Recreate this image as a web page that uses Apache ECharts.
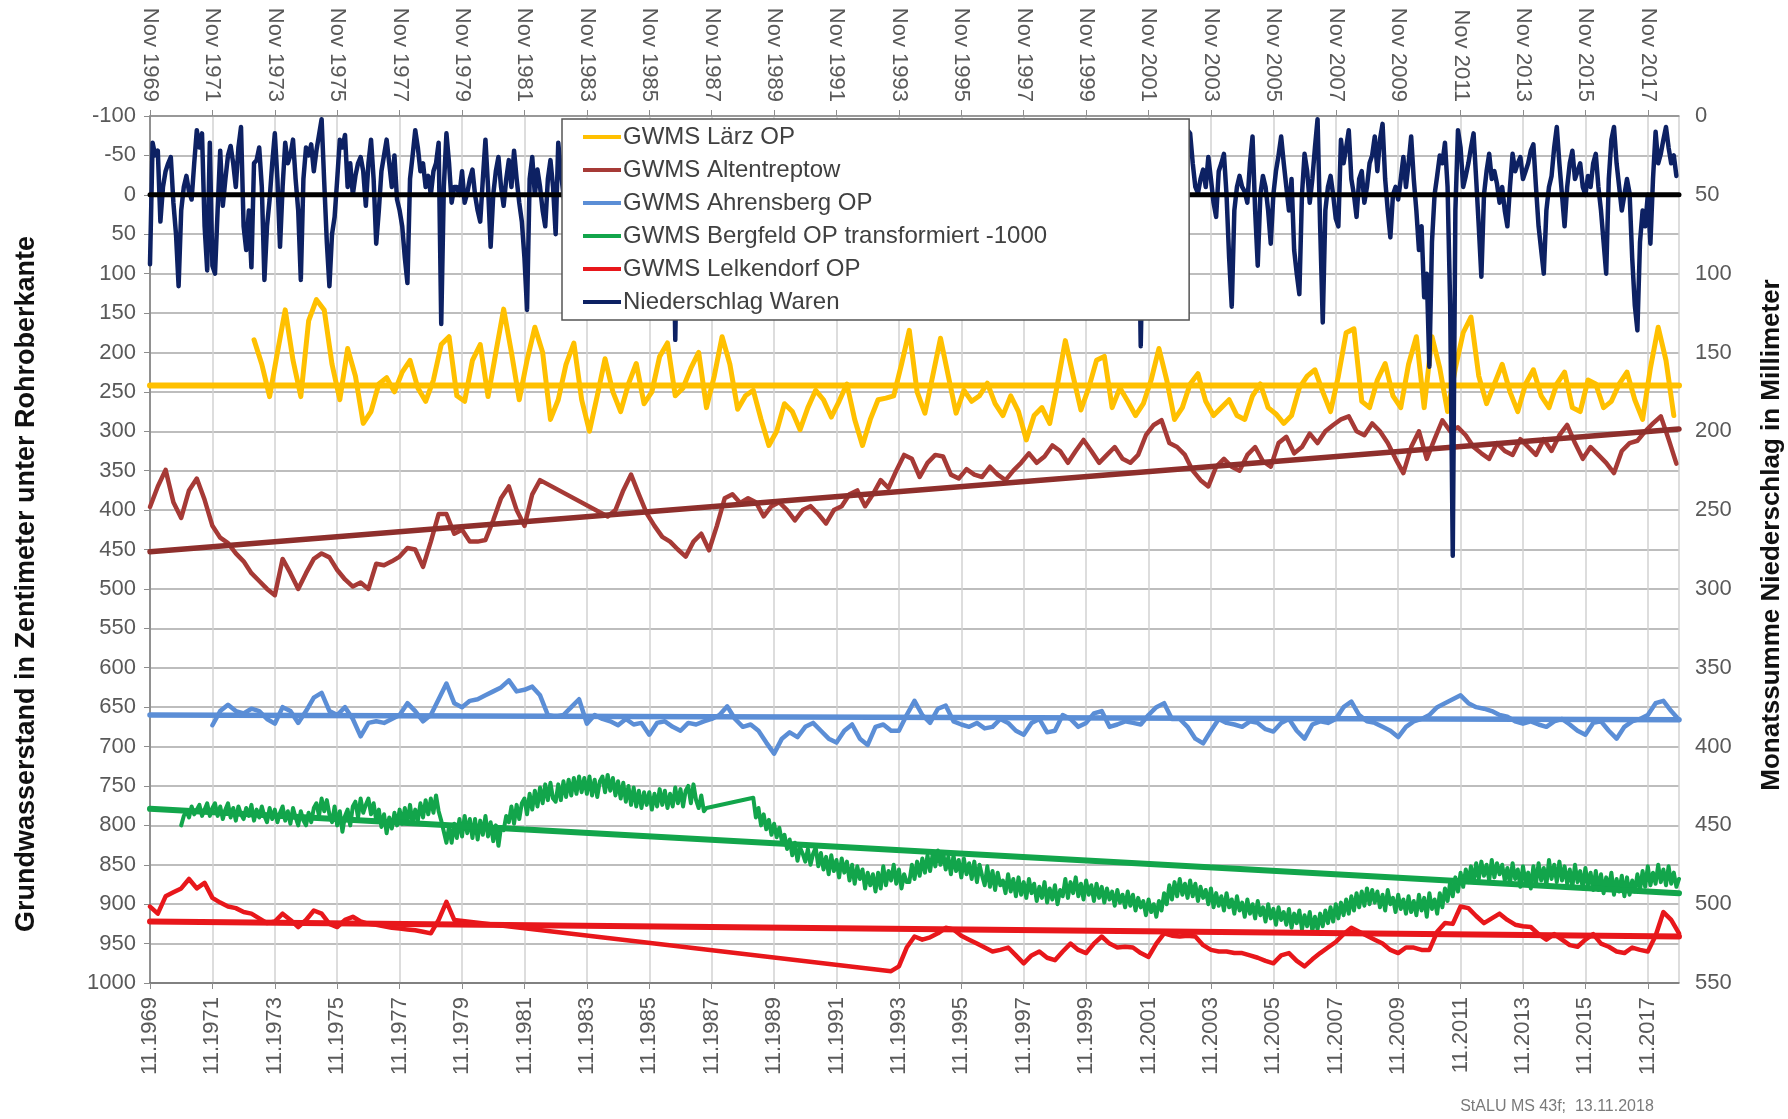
<!DOCTYPE html>
<html>
<head>
<meta charset="UTF-8">
<title>Grundwasserstand und Niederschlag</title>
<script src="https://cdn.jsdelivr.net/npm/echarts@6.0.0/dist/echarts.min.js"></script>
<style>
  html, body { margin: 0; padding: 0; background: #fff; }
  #chart { width: 1788px; height: 1119px; }
</style>
</head>
<body>
<div id="chart"></div>
<script>
// x position = months since Nov 1969
var firstYear = 1969;
var lastMonth = 588;

// GWMS Lärz OP, every 3 months from month 40
var larzStart = 40;
var larz = [
  184,215,256,200,146,210,256,160,133,146,215,260,195,230,290,275,240,232,250,225,
  210,245,262,235,190,180,255,262,210,190,256,200,145,200,260,210,168,200,285,260,
  215,188,260,300,255,208,250,275,240,214,265,250,205,188,255,245,220,200,270,230,
  180,215,272,255,248,285,318,300,265,275,298,270,248,260,282,262,240,285,318,285,
  260,258,255,215,172,
  250,277,230,182,230,277,248,262,255,239,265,280,255,275,311,280,270,290,240,185,
  230,273,245,210,205,270,245,262,280,265,235,195,235,285,270,240,227,262,280,270,
  260,280,285,255,240,270,278,290,280,245,230,222,250,275,230,175,170,262,270,235,
  214,255,270,215,180,270,180,220,275,220,175,155,230,265,240,215,250,275,240,222,
  255,270,240,225,270,275,235,240,270,262,240,225,260,285,220,168,210,280
];

// GWMS Altentreptow, every 3 months, gap 1981-1984
var altStartA = 0;
var altA = [
  396,370,349,390,410,375,360,387,420,435,442,455,465,480,490,500,508,462,480,500,
  480,462,455,460,476,488,497,492,500,468,470,465,459,448,450,472,440,405,405,430,
  425,440,440,438,413,385,370,400,420,380,362
];
var altStartB = 176;
var altB = [
  408,400,375,355,380,404,420,434,440,450,459,440,430,451,420,385,380,391,385,390,
  408,395,390,400,413,400,395,405,417,400,395,380,375,395,380,362,372,350,330,
  335,358,340,330,332,355,360,348,355,358,345,355,362,350,340,328,340,332,318,325,
  340,325,311,325,340,330,320,335,340,330,305,292,286,315,320,330,350,362,370,345,
  335,345,350,330,320,338,345,315,307,328,320,303,315,300,292,285,281,300,305,290,
  300,315,335,353,320,300,335,310,286,300,295,305,320,328,335,315,325,330,310,320,
  330,310,325,305,292,315,335,320,330,340,353,325,315,312,300,290,281,310,341
];

// GWMS Ahrensberg OP, every 3 months from month 24
var ahrStart = 24;
var ahr = [
  673,655,647,655,658,652,655,665,671,650,655,670,655,638,632,655,660,650,665,687,
  670,668,670,665,660,645,655,668,660,640,620,645,650,642,640,635,630,625,616,630,
  628,624,635,660,662,660,650,640,671,660,665,668,673,665,672,670,685,670,668,675,
  680,670,672,668,665,660,649,665,675,672,680,695,709,690,682,688,675,670,680,690,
  695,680,672,690,698,675,672,680,680,660,
  642,660,670,652,648,668,672,675,670,677,675,665,670,680,685,670,665,682,680,660,
  665,675,670,658,655,675,672,668,670,672,660,650,645,665,665,675,690,696,680,665,
  670,672,675,668,670,678,681,670,665,680,690,672,668,670,665,650,643,660,668,670,
  675,680,688,675,668,665,660,650,645,640,635,645,650,652,655,660,662,668,671,668,
  672,675,668,665,672,680,685,670,668,680,690,675,668,665,660,645,642,655,666
];

// GWMS Bergfeld OP (transformiert -1000), monthly, gap 1987-1989
var bergStartA = 12;
var bergA = [
  800,788,782,790,776,786,780,774,788,780,772,788,
  778,772,788,776,792,780,772,790,778,794,776,786,
  792,778,788,774,794,780,790,776,788,796,778,792,
  780,796,784,776,794,782,798,778,790,800,782,794,
  800,784,796,778,772,788,766,782,768,786,796,776,
  800,782,808,788,780,800,776,770,790,766,784,774,
  766,786,772,794,780,802,786,810,790,804,784,800,
  780,798,778,796,774,798,780,794,772,790,768,786,
  766,784,762,782,794,808,822,802,822,798,816,792,
  814,788,810,792,816,792,818,794,812,788,814,796,
  820,800,826,802,806,788,796,776,798,774,792,772,
  766,786,760,780,756,776,752,772,748,768,746,766,
  770,748,768,744,764,742,762,740,760,738,758,740,
  760,738,762,742,764,744,738,758,736,756,740,762,
  744,766,746,770,750,774,752,776,756,778,758,774,
  758,780,760,776,754,774,756,778,760,776,752,772,
  754,776,756,750,772,748,768,778,762,782,778
];
var bergStartB = 232;
var bergB = [
  765,790,778,800,786,805,793,812,798,815,803,820,
  812,830,818,838,822,845,828,836,846,830,850,836,
  828,852,835,856,840,862,838,858,844,866,842,860,
  846,870,850,874,852,868,856,880,860,876,862,884,
  860,880,852,876,858,870,850,874,856,880,862,872,
  872,850,868,846,864,842,860,838,858,836,852,832,
  850,834,856,840,862,838,858,844,866,842,862,848,
  868,846,872,850,864,876,852,878,858,882,860,876,
  870,886,862,884,868,890,866,888,872,892,868,886,
  874,896,878,892,872,898,880,894,876,900,882,890,
  868,892,872,886,866,890,874,894,870,888,876,896,
  874,892,878,898,880,894,884,902,882,898,888,904,
  884,902,888,908,892,904,896,914,894,910,900,916,
  896,908,886,900,876,894,872,890,868,888,874,892,
  870,890,874,896,878,892,882,900,880,904,886,902,
  890,908,886,904,894,912,890,908,898,916,894,912,
  900,918,896,914,904,922,900,918,906,926,904,920,
  910,926,906,930,912,924,908,932,914,928,910,934,
  916,932,912,928,908,924,904,922,900,918,898,914,
  894,912,890,908,886,904,884,902,880,900,882,898,
  884,904,888,908,882,900,892,910,888,906,894,912,
  890,910,896,914,888,908,892,916,886,906,894,912,
  886,904,880,896,872,890,866,884,860,878,856,872,
  852,872,848,868,846,864,850,870,844,866,848,862,
  850,870,854,874,848,868,856,878,852,872,860,880,
  852,874,848,870,854,876,844,868,850,872,846,870,
  852,874,856,878,850,872,858,880,854,876,860,882,
  858,882,862,886,866,880,860,888,868,884,864,890,
  866,888,870,884,862,882,858,878,852,876,860,874,
  850,872,856,876,852,874,860,878,868
];

// GWMS Lelkendorf OP, every 3 months, gap 1979-1993
var lelkStartA = 0;
var lelkA = [
  903,912,890,885,880,868,880,873,892,898,903,905,910,912,918,924,922,912,920,929,
  920,908,912,925,929,920,916,922,925,926,928,930,931,932,933,935,937,920,897,920
];
var lelkStartB = 285;
var lelkB = [
  985,979,955,941,945,942,937,930,932,940,945,950,955,960,958,955,965,975,965,960,
  968,971,960,950,958,962,950,941,950,955,954,955,962,967,950,937,940,941,940,941,
  952,958,960,960,962,962,965,968,972,975,965,962,972,979,970,962,955,948,938,930,
  935,940,945,950,958,962,955,955,958,958,935,924,925,903,905,915,924,918,912,920,
  926,928,929,938,945,938,945,952,954,945,938,950,954,960,962,955,958,960,940,910,
  920,937
];

// Niederschlag Waren, monthly sums in mm, Nov 1969 .. Oct 2018 (one row = Nov..Oct)
var rain = [
  94,17,25,22,67,45,35,30,26,55,75,108,
  60,45,38,48,53,30,9,20,11,70,98,17,
  95,100,60,22,57,40,25,19,30,45,20,7,
  70,85,60,96,30,28,20,45,104,70,53,30,
  11,40,83,45,17,30,25,15,40,60,104,40,
  20,25,18,35,22,12,2,42,80,108,75,64,
  40,15,20,12,45,30,50,38,30,26,35,57,
  30,15,40,81,60,35,25,15,30,45,25,53,
  60,70,90,106,40,25,9,20,35,30,45,38,
  50,35,30,17,132,45,11,30,55,45,45,50,
  35,55,49,40,34,50,60,67,40,15,45,83,
  50,35,26,45,57,40,28,45,22,40,55,67,
  90,123,40,26,50,34,45,60,70,40,28,45,
  75,17,35,50,62,40,28,55,70,45,38,60,
  42,30,55,48,25,65,80,40,35,58,45,30,
  50,62,38,45,70,55,28,40,85,60,42,35,
  48,30,55,65,40,25,60,75,52,38,142,45,
  35,50,68,42,30,58,80,46,37,55,62,40,
  28,45,70,52,36,48,90,55,33,41,60,72,
  44,30,52,65,38,27,58,76,49,35,62,50,
  40,55,30,68,85,47,36,50,60,42,29,64,
  78,45,34,56,70,48,31,52,88,60,40,46,
  35,58,72,44,30,61,95,50,38,47,66,41,
  32,54,80,57,39,45,68,52,28,60,74,43,
  36,50,64,48,33,57,82,46,40,55,70,38,
  30,52,66,45,37,60,90,54,42,48,63,35,
  41,58,75,49,34,53,69,44,31,62,86,50,
  38,47,60,55,29,51,73,46,36,58,65,42,
  33,56,78,50,40,45,67,59,37,49,92,48,
  35,54,62,43,30,57,71,52,39,46,68,40,
  44,59,80,47,32,55,64,50,38,61,76,45,
  36,48,70,53,41,57,66,43,34,146,60,48,
  39,52,74,46,33,58,69,51,37,44,63,40,
  35,50,22,9,11,30,45,49,40,34,45,26,
  40,55,64,35,30,24,50,90,121,60,45,38,
  45,48,55,30,13,60,95,50,38,45,60,81,
  50,35,25,13,30,45,60,40,85,100,113,50,
  24,35,55,40,20,2,70,131,60,45,38,50,
  65,70,15,30,20,9,40,50,64,40,35,55,
  45,30,25,13,35,15,5,40,60,77,50,45,
  53,40,26,45,30,13,40,60,85,70,115,100,
  159,80,50,38,25,30,17,45,120,279,60,9,
  20,45,38,30,20,11,40,70,102,50,35,24,
  40,35,43,55,45,60,70,45,24,35,30,26,
  40,35,30,22,18,45,70,85,100,60,45,38,
  20,7,30,50,70,45,30,22,40,35,30,45,
  50,38,45,30,24,45,60,80,100,40,15,7,
  30,45,60,50,40,49,90,120,136,80,60,70,
  50,81,40,10,30,24,15,7,20,30,25,38
];

// linear trends: value at month 0 and at lastMonth
var larzTrend = [242, 242];
var altTrend = [453, 297];
var ahrTrend = [660, 666];
var bergTrend = [779, 886];
var lelkTrend = [922, 941];
var rainMean = [50, 50];

var names = ['GWMS Lärz OP', 'GWMS Altentreptow', 'GWMS Ahrensberg OP',
  'GWMS Bergfeld OP transformiert -1000', 'GWMS Lelkendorf OP', 'Niederschlag Waren'];
var colors = ['#FFC000', '#A63A36', '#5B8ED6', '#12A54B', '#E8171B', '#0D2163'];

function seg(start, step, values) {
  return values.map(function (v, i) { return [start + i * step, v]; });
}
function trend(pair) {
  return [[0, pair[0]], [lastMonth, pair[1]]];
}

var labelFont = { fontFamily: 'Liberation Sans', fontSize: 22, color: '#595959' };

function dataLine(name, color, data, yIndex, width) {
  return {
    name: name, type: 'line', data: data, yAxisIndex: yIndex || 0,
    symbol: 'none', color: color, animation: false,
    lineStyle: { width: width || 4.5, color: color, join: 'round', cap: 'round' }
  };
}
function trendLine(name, color, pair, yIndex, width) {
  return dataLine(name, color, trend(pair), yIndex, width || 6);
}

var chart = echarts.init(document.getElementById('chart'), null, { renderer: 'canvas' });

chart.setOption({
  backgroundColor: '#fff',
  animation: false,
  grid: { left: 150, right: 109, top: 116, bottom: 136, outerBoundsMode: 'none', show: false },
  legend: {
    data: names,
    orient: 'vertical',
    left: 562, top: 119,
    icon: 'rect',
    itemWidth: 38, itemHeight: 4, itemGap: 9,
    padding: [6, 142, 6, 21],
    backgroundColor: '#fff',
    borderColor: '#555', borderWidth: 1.5,
    selectedMode: false,
    textStyle: { fontFamily: 'Liberation Sans', fontSize: 24, color: '#404040', padding: [0, 0, 0, -3] }
  },
  xAxis: [
    {
      type: 'value', position: 'bottom', min: 0, max: lastMonth, interval: 24,
      axisLine: { show: true, onZero: false, lineStyle: { color: '#6e6e6e', width: 1.5 } },
      axisTick: { show: true, length: 6, lineStyle: { color: '#8c8c8c' } },
      splitLine: { show: true, lineStyle: { color: '#d2d2d2', width: 1.5 } },
      axisLabel: Object.assign({
        rotate: 90, margin: 14, showMaxLabel: false,
        formatter: function (v) { return v % 24 === 0 ? '11.' + (firstYear + v / 12) : ''; }
      }, labelFont)
    },
    {
      type: 'value', position: 'top', min: 0, max: lastMonth, interval: 24,
      axisLine: { show: true, onZero: false, lineStyle: { color: '#8c8c8c', width: 1.5 } },
      axisTick: { show: true, length: 6, lineStyle: { color: '#8c8c8c' } },
      splitLine: { show: false },
      axisLabel: Object.assign({
        rotate: 90, margin: 14, showMaxLabel: false,
        formatter: function (v) { return v % 24 === 0 ? 'Nov ' + (firstYear + v / 12) : ''; }
      }, labelFont)
    }
  ],
  yAxis: [
    {
      type: 'value', inverse: true, min: -100, max: 1000, interval: 50, position: 'left',
      axisLine: { show: true, lineStyle: { color: '#8c8c8c', width: 1.5 } },
      axisTick: { show: true, length: 6, lineStyle: { color: '#8c8c8c' } },
      splitLine: { show: true, lineStyle: { color: '#bdbdbd', width: 2 } },
      axisLabel: Object.assign({ margin: 14, formatter: function (v) { return String(v); } }, labelFont)
    },
    {
      type: 'value', inverse: true, min: 0, max: 550, interval: 50, position: 'right',
      axisLine: { show: true, lineStyle: { color: '#8c8c8c', width: 1.5 } },
      axisTick: { show: false },
      splitLine: { show: false },
      axisLabel: Object.assign({ margin: 16 }, labelFont)
    }
  ],
  graphic: [
    {
      type: 'text', x: 27, y: 584, rotation: Math.PI / 2,
      style: { text: 'Grundwasserstand in Zentimeter unter Rohroberkante',
               font: 'bold 27px "Liberation Sans"', fill: '#111',
               textAlign: 'center', textVerticalAlign: 'middle' }
    },
    {
      type: 'text', x: 1772, y: 535, rotation: Math.PI / 2,
      style: { text: 'Monatssumme Niederschlag in Millimeter',
               font: 'bold 26px "Liberation Sans"', fill: '#111',
               textAlign: 'center', textVerticalAlign: 'middle' }
    },
    {
      type: 'text', x: 1557, y: 1107,
      style: { text: 'StALU MS 43f;  13.11.2018',
               font: '16px "Liberation Sans"', fill: '#7a7a7a',
               textAlign: 'center', textVerticalAlign: 'middle' }
    }
  ],
  series: [
    dataLine(names[0], colors[0], seg(larzStart, 3, larz), 0, 5),
    dataLine(names[1], colors[1], seg(altStartA, 3, altA).concat(seg(altStartB, 3, altB))),
    dataLine(names[2], colors[2], seg(ahrStart, 3, ahr)),
    dataLine(names[3], colors[3], seg(bergStartA, 1, bergA).concat(seg(bergStartB, 1, bergB)), 0, 4),
    dataLine(names[4], colors[4], seg(lelkStartA, 3, lelkA).concat(seg(lelkStartB, 3, lelkB))),
    trendLine('Trend Lärz', colors[0], larzTrend),
    trendLine('Trend Altentreptow', '#8E2F2C', altTrend, 0, 5.5),
    trendLine('Trend Ahrensberg', colors[2], ahrTrend, 0, 5.5),
    trendLine('Trend Bergfeld', colors[3], bergTrend),
    trendLine('Trend Lelkendorf', colors[4], lelkTrend),
    dataLine(names[5], colors[5], seg(0, 1, rain), 1, 4.5),
    trendLine('Mittel Niederschlag', '#000', rainMean, 1, 5)
  ]
});
</script>
</body>
</html>
